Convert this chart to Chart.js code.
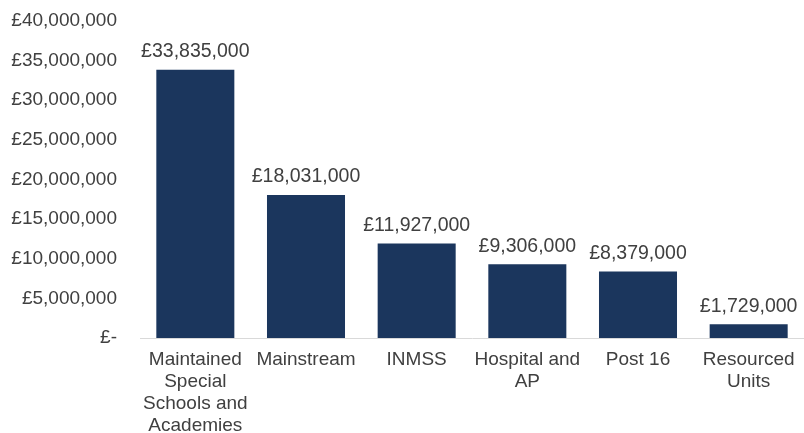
<!DOCTYPE html>
<html>
<head>
<meta charset="utf-8">
<script src="https://cdn.jsdelivr.net/npm/chart.js@4"></script>
<style>
html,body{margin:0;padding:0;background:#fff;}
#wrap{width:804px;height:433px;position:relative;}
</style>
</head>
<body>
<div id="wrap"><canvas id="c" width="804" height="433"></canvas></div>
<script>
const categories = [
  ["Maintained", "Special", "Schools and", "Academies"],
  ["Mainstream"],
  ["INMSS"],
  ["Hospital and", "AP"],
  ["Post 16"],
  ["Resourced", "Units"]
];
const values = [33835000, 18031000, 11927000, 9306000, 8379000, 1729000];
const yTicks = [0, 5000000, 10000000, 15000000, 20000000, 25000000, 30000000, 35000000, 40000000];

const FONT = "'Liberation Sans', Arial, sans-serif";
const TEXT = '#404040';
const fmt = v => v === 0 ? '£-' : '£' + v.toLocaleString('en-GB');

const labelPlugin = {
  id: 'barLabels',
  afterDatasetsDraw(chart) {
    const ctx = chart.ctx;
    const meta = chart.getDatasetMeta(0);
    ctx.save();
    ctx.font = '19.5px ' + FONT;
    ctx.fillStyle = TEXT;
    ctx.textAlign = 'center';
    ctx.textBaseline = 'middle';
    meta.data.forEach((bar, i) => {
      ctx.fillText(fmt(values[i]), bar.x, bar.y - 18);
    });
    ctx.restore();
  }
};

new Chart(document.getElementById('c'), {
  type: 'bar',
  data: {
    labels: categories,
    datasets: [{
      data: values,
      backgroundColor: '#1B365D',
      barPercentage: 0.705,
      categoryPercentage: 1.0
    }]
  },
  options: {
    responsive: false,
    animation: false,
    layout: { padding: { top: 21, right: 0, bottom: 0, left: 0 } },
    plugins: { legend: { display: false }, tooltip: { enabled: false } },
    scales: {
      x: {
        grid: { display: false, drawTicks: false },
        border: { display: true, color: '#D9D9D9', width: 1 },
        ticks: {
          color: TEXT,
          font: { family: FONT, size: 19, lineHeight: 1.16 },
          padding: 11,
          maxRotation: 0,
          autoSkip: false
        },
        afterFit(scale) { scale.height = 95; scale.paddingLeft = 0; scale.paddingRight = 0; }
      },
      y: {
        min: 0,
        max: 40000000,
        afterBuildTicks(scale) { scale.ticks = yTicks.map(v => ({ value: v })); },
        grid: { display: false, drawTicks: false },
        border: { display: false },
        ticks: {
          color: TEXT,
          font: { family: FONT, size: 19 },
          padding: 23,
          callback: v => fmt(v)
        },
        afterFit(scale) { scale.width = 140; scale.paddingTop = 0; scale.paddingBottom = 0; }
      }
    }
  },
  plugins: [labelPlugin]
});
</script>
</body>
</html>
